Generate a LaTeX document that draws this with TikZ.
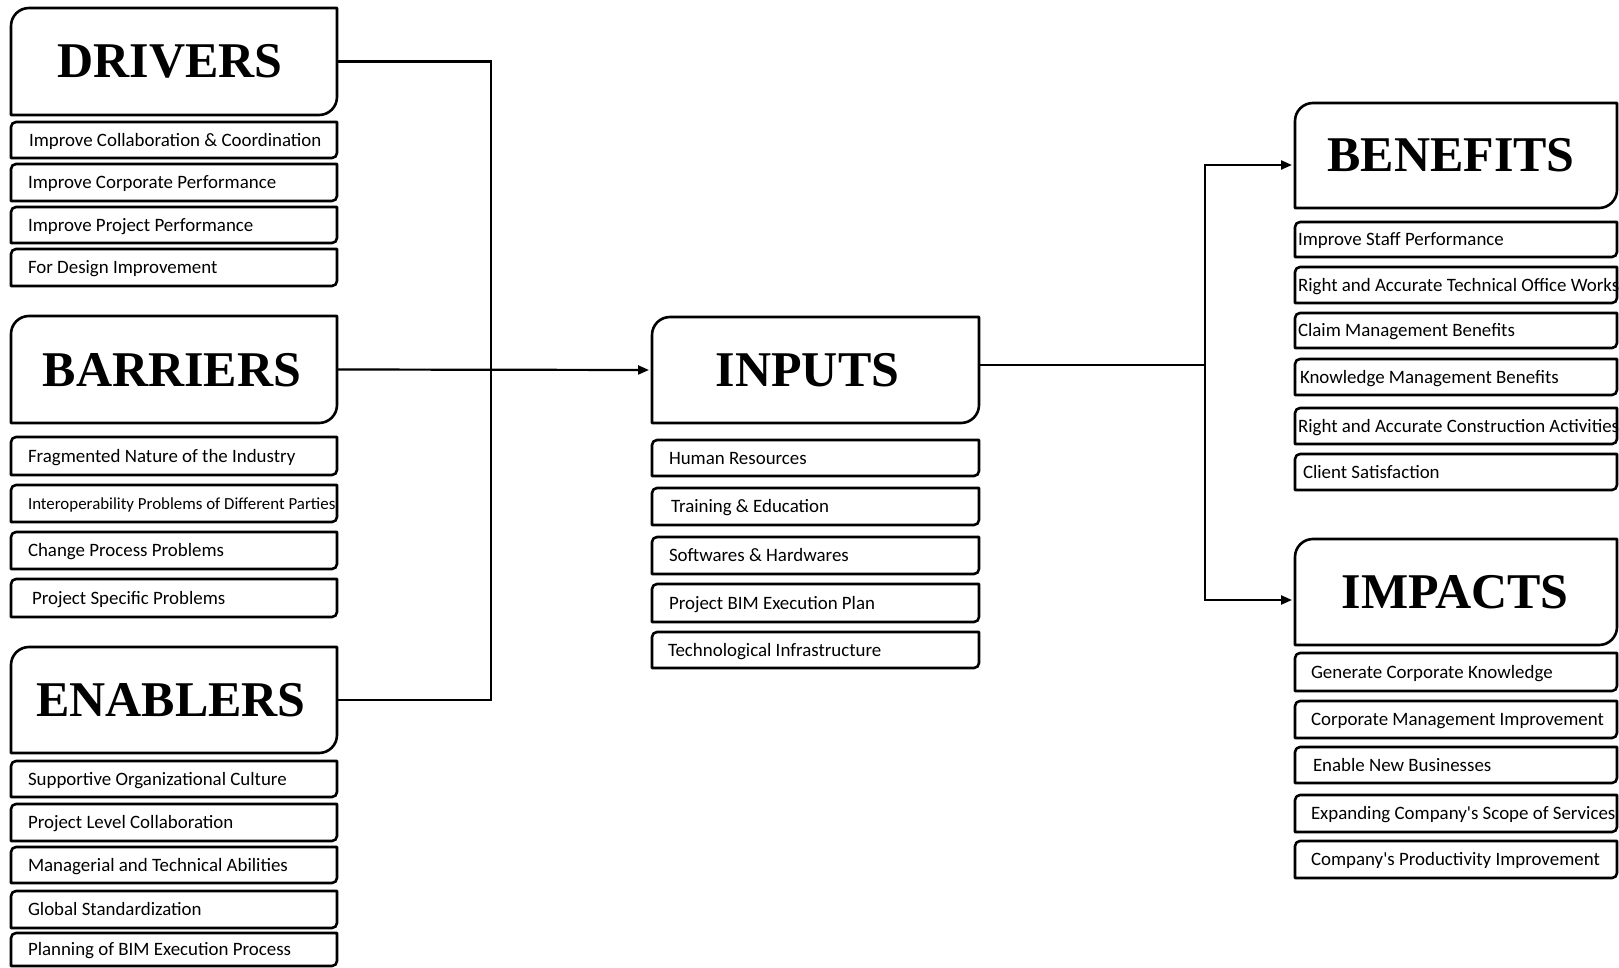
\documentclass[tikz,border=0pt]{standalone}
\usepackage{fontspec}
\setmainfont{Carlito}
\newfontfamily\headfont{Liberation Serif}
\usetikzlibrary{arrows.meta}

\tikzset{
  frame/.style={line width=2.6pt, line join=round},
  conn/.style={line width=2.2pt},
  arr/.style={-{Triangle[length=11pt,width=9pt]}, shorten >=3pt},
  item/.style={inner ysep=0pt, outer sep=0pt, anchor=north west,
    font=\fontsize{18.9}{22}\selectfont, text height=15pt, text depth=2.6pt},
  head/.style={inner sep=0pt, outer sep=0pt, anchor=north west,
    font=\headfont\bfseries\fontsize{50}{54}\selectfont, text height=36pt, text depth=3pt},
}

% outline with rounded top-left and bottom-right corners
\newcommand\tlbrframe[2]{%
  \draw[frame] (#1.south west) -- ([yshift=-#2pt]#1.north west)
    arc[start angle=180,end angle=90,radius=#2pt] -- (#1.north east)
    -- ([yshift=#2pt]#1.south east)
    arc[start angle=0,end angle=-90,radius=#2pt] -- cycle;}

% name, left, top, right, bottom, inset, text
\newcommand\mkitem[7]{%
  \pgfmathsetmacro\itw{#4-#2-2*#6}%
  \pgfmathsetmacro\ith{#5-#3}%
  \node[item, inner xsep=#6pt, minimum height=\ith pt] (#1) at (#2,-#3)
    {\makebox[\itw pt][l]{#7}};
  \tlbrframe{#1}{5}}

% name, left, top, right, bottom, text
\newcommand\mkhead[6]{%
  \pgfmathsetmacro\itw{#4-#2}%
  \pgfmathsetmacro\ith{#5-#3}%
  \node[head, minimum width=\itw pt, minimum height=\ith pt] (#1) at (#2,-#3) {#6};
  \tlbrframe{#1}{18}}

\begin{document}
\begin{tikzpicture}[x=1pt,y=1pt]
\useasboundingbox (0,0) rectangle (1619,-968);

% left column
\mkhead{drivers}{11}{8}{337}{115}{\kern-8pt DRIVERS}
\mkitem{d1}{11}{122}{337}{158}{18}{Improve Collaboration \& Coordination}
\mkitem{d2}{11}{164}{337}{201}{17}{Improve Corporate Performance}
\mkitem{d3}{11}{207}{337}{243}{17}{Improve Project Performance}
\mkitem{d4}{11}{249}{337}{286}{17}{For Design Improvement}

\mkhead{barriers}{11}{316}{337}{423}{\kern-4pt BARRIERS}
\mkitem{b1}{11}{437}{337}{475}{17}{Fragmented Nature of the Industry}
\mkitem{b2}{11}{485}{337}{522}{17}{\fontsize{16.9}{20}\selectfont Interoperability Problems of Different Parties}
\mkitem{b3}{11}{532}{337}{569}{17}{Change Process Problems}
\mkitem{b4}{11}{579}{337}{617}{21}{Project Specific Problems}

\mkhead{enablers}{11}{647}{337}{753}{\kern-6pt ENABLERS}
\mkitem{e1}{11}{761}{337}{797}{17}{Supportive Organizational Culture}
\mkitem{e2}{11}{804}{337}{841}{17}{Project Level Collaboration}
\mkitem{e3}{11}{847}{337}{883}{17}{Managerial and Technical Abilities}
\mkitem{e4}{11}{891}{337}{928}{17}{Global Standardization}
\mkitem{e5}{11}{933}{337}{966}{17}{Planning of BIM Execution Process}

% middle column
\mkhead{inputs}{652}{317}{979}{423}{\kern-16pt INPUTS}
\mkitem{i1}{652}{440}{979}{476}{17}{Human Resources}
\mkitem{i2}{652}{488}{979}{525}{19}{Training \& Education}
\mkitem{i3}{652}{537}{979}{574}{17}{Softwares \& Hardwares}
\mkitem{i4}{652}{584}{979}{622}{17}{Project BIM Execution Plan}
\mkitem{i5}{652}{632}{979}{668}{16}{Technological Infrastructure}

% right column
\mkhead{benefits}{1295}{103}{1617}{208}{\kern-10pt BENEFITS}
\mkitem{n1}{1295}{222}{1617}{257}{3}{Improve Staff Performance}
\mkitem{n2}{1295}{267}{1617}{303}{3}{Right and Accurate Technical Office Works}
\mkitem{n3}{1295}{313}{1617}{348}{3}{Claim Management Benefits}
\mkitem{n4}{1295}{359}{1617}{395}{5}{Knowledge Management Benefits}
\mkitem{n5}{1295}{408}{1617}{444}{3}{Right and Accurate Construction Activities}
\mkitem{n6}{1295}{454}{1617}{490}{8}{Client Satisfaction}

\mkhead{impacts}{1295}{539}{1617}{645}{\kern-2pt IMPACTS}
\mkitem{m1}{1295}{653}{1617}{691}{16}{Generate Corporate Knowledge}
\mkitem{m2}{1295}{701}{1617}{738}{16}{Corporate Management Improvement}
\mkitem{m3}{1295}{747}{1617}{783}{18}{Enable New Businesses}
\mkitem{m4}{1295}{795}{1617}{832}{16}{Expanding Company\textquotesingle s Scope of Services}
\mkitem{m5}{1295}{841}{1617}{878}{16}{Company\textquotesingle s Productivity Improvement}

% connectors
\coordinate (jL) at (491,-369);
\coordinate (jR) at (1205,-365);
\draw[conn] (drivers.east) -| (jL);
\draw[conn] (enablers.east) -| (jL);
\draw[conn,arr] (barriers.east) -- (inputs.west);
\draw[conn] (inputs.east |- jR) -- (jR);
\draw[conn,arr] (jR) |- ([yshift=-9.5pt]benefits.west);
\draw[conn,arr] (jR) |- ([yshift=-8pt]impacts.west);
\end{tikzpicture}
\end{document}
